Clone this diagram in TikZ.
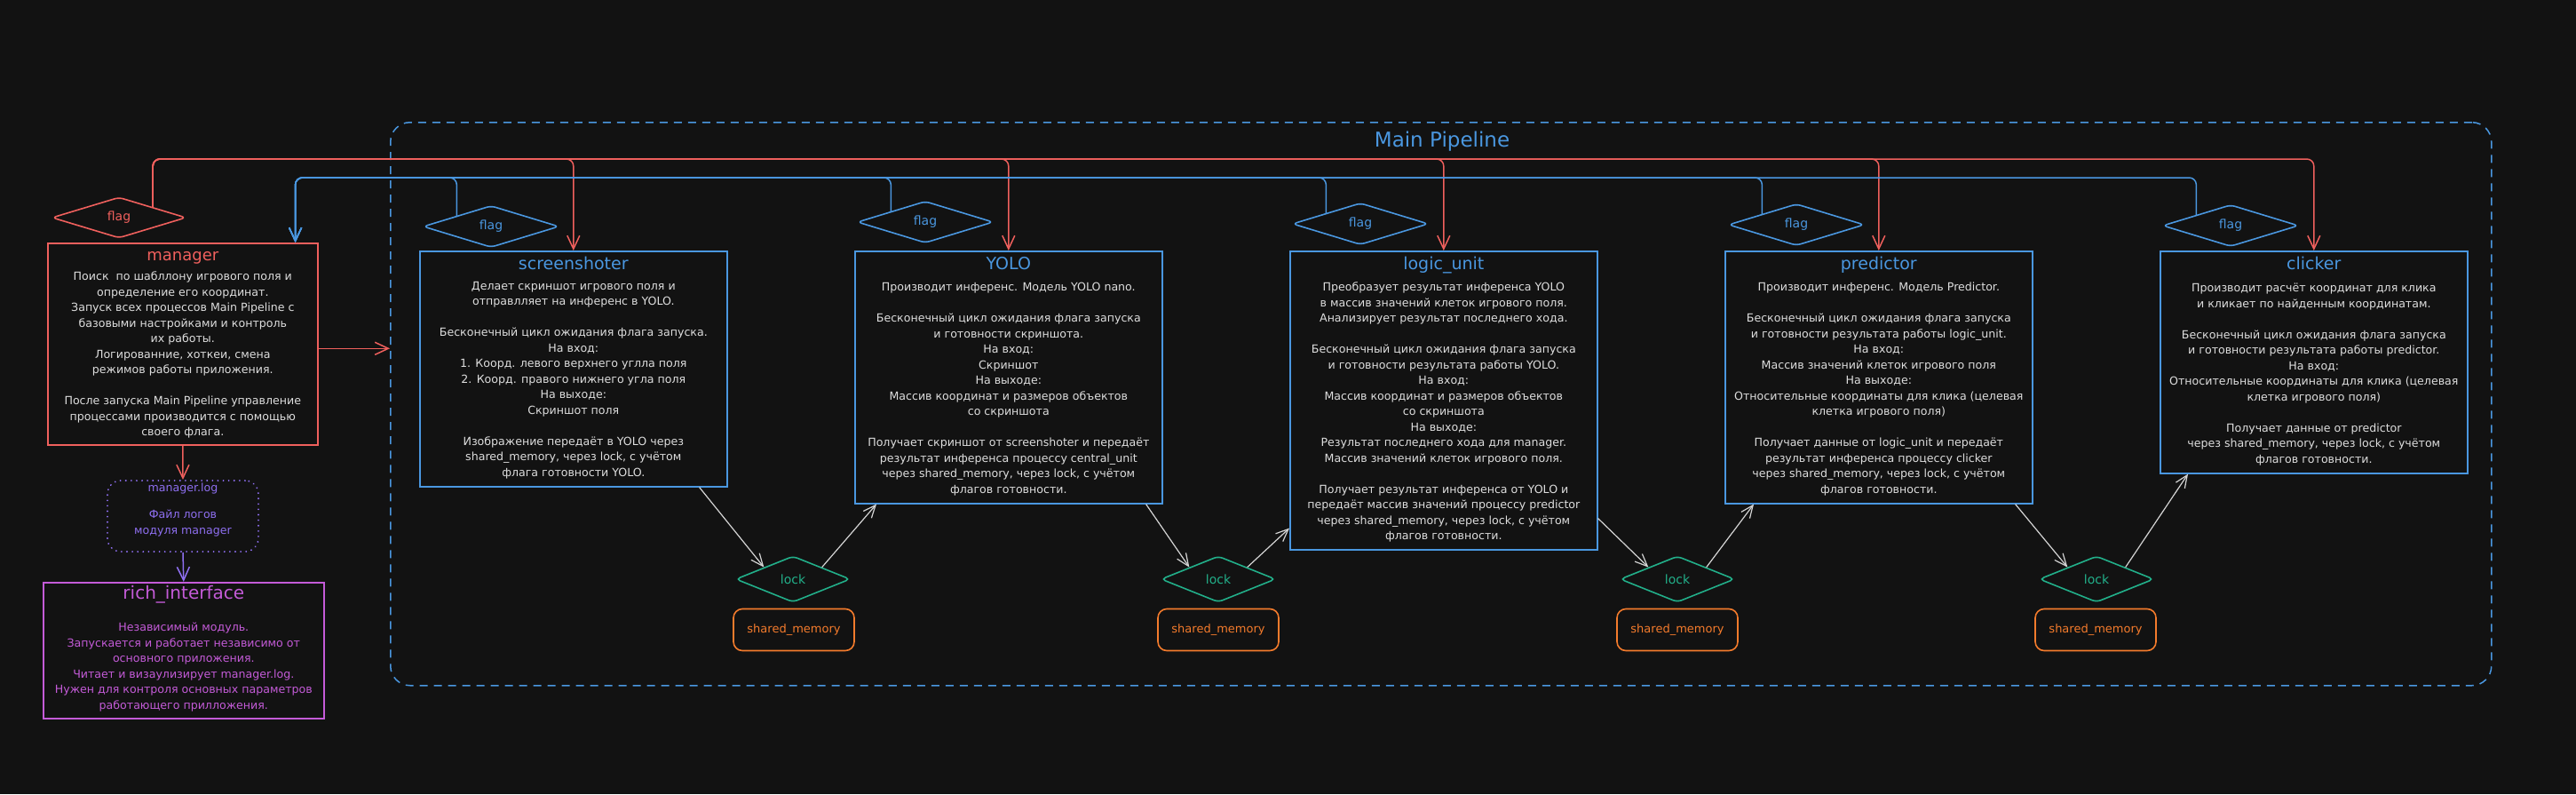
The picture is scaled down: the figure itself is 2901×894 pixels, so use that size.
\documentclass[tikz,border=0pt]{standalone}
\usepackage{fontspec}
\setmainfont{DejaVu Sans}
\usetikzlibrary{shapes.geometric,arrows.meta}
\definecolor{bg}{HTML}{121212}
\definecolor{cred}{HTML}{F0605D}
\definecolor{cblue}{HTML}{4A97E0}
\definecolor{cgreen}{HTML}{22B08A}
\definecolor{corange}{HTML}{F47B2C}
\definecolor{cviolet}{HTML}{8E6FF0}
\definecolor{cmag}{HTML}{C45BD8}
\definecolor{ctext}{HTML}{DEDEDE}
\definecolor{carrow}{HTML}{D4D4D4}
\begin{document}
\begin{tikzpicture}[x=1pt,y=-1pt,
  procbox/.style={draw=cblue, line width=1.6pt, anchor=north west, inner sep=0pt},
  ttl/.style={anchor=base, inner sep=0pt, font=\fontsize{19}{22}\selectfont},
  body/.style={text=ctext, align=center, inner sep=0pt, anchor=north, font=\fontsize{12.6}{17.5}\selectfont},
  flagd/.style={diamond, draw=cblue, line width=1.6pt, rounded corners=5pt, inner sep=0pt, minimum width=153pt, minimum height=47pt, text=cblue, font=\fontsize{14}{16}\selectfont},
  lockd/.style={diamond, draw=cgreen, line width=1.6pt, rounded corners=5pt, inner sep=0pt, minimum width=129pt, minimum height=52pt, text=cgreen, font=\fontsize{14}{16}\selectfont},
  shm/.style={draw=corange, line width=1.6pt, rounded corners=10pt, minimum width=136pt, minimum height=47pt, text=corange, font=\fontsize{13}{15}\selectfont},
  redarr/.style={draw=cred, line width=1.5pt, rounded corners=8pt, -{Straight Barb[length=15pt,width=14pt]}},
  bluearr/.style={draw=cblue, line width=1.5pt, rounded corners=8pt, -{Straight Barb[length=15pt,width=14pt]}},
  whitearr/.style={draw=carrow, line width=1.2pt, -{Straight Barb[length=14pt,width=12pt]}},
  violetarr/.style={draw=cviolet, line width=1.5pt, -{Straight Barb[length=15pt,width=14pt]}}
]
\useasboundingbox (0,0) rectangle (2901,894);
\fill[bg] (0,0) rectangle (2901,894);

% Main pipeline frame
\node[draw=cblue, line width=1.5pt, dash pattern=on 9pt off 7pt, rounded corners=22pt, anchor=north west, inner sep=0pt, minimum width=2366pt, minimum height=634pt] (pipe) at (439,137) {};
\node[anchor=base, text=cblue, inner sep=0pt, font=\fontsize{23}{26}\selectfont] (pipet) at (1624,165) {Main Pipeline};

% manager
\node[draw=cred, line width=1.6pt, anchor=north west, inner sep=0pt, minimum width=304pt, minimum height=227pt] (m) at (53,273) {};
\node[ttl, text=cred, font=\fontsize{18}{20}\selectfont] (mt) at (m.north |- 0,293) {manager};
\node[body] (mb) at (m.north |- 0,306) {Поиск~~по шабллону игрового поля и\\
определение его координат.\\
Запуск всех процессов Main Pipeline с\\
базовыми настройками и контроль\\
их работы.\\
Логированние, хоткеи, смена\\
режимов работы приложения.\\[17.5pt]
После запуска Main Pipeline управление\\
процессами производится с помощью\\
своего флага.};
\node[diamond, draw=cred, line width=1.6pt, rounded corners=5pt, inner sep=0pt, minimum width=151pt, minimum height=46pt, text=cred, font=\fontsize{14}{16}\selectfont] (mf) at (134,245) {flag};

% manager.log
\node[draw=cviolet, line width=2pt, line cap=round, dash pattern=on 0.1pt off 6pt, rounded corners=15pt, anchor=north west, inner sep=0pt, minimum width=170pt, minimum height=80pt] (log) at (120,540) {};
\node[body, text=cviolet] (logt) at (log.north |- 0,544) {manager.log\\[12.5pt]Файл логов\\модуля manager};

% rich_interface
\node[draw=cmag, line width=1.6pt, anchor=north west, inner sep=0pt, minimum width=316pt, minimum height=153pt] (rich) at (48,655) {};
\node[ttl, text=cmag, font=\fontsize{20}{22}\selectfont] (richt) at (rich.north |- 0,674) {rich\_interface};
\node[body, text=cmag] (richb) at (rich.north |- 0,701) {Независимый модуль.\\
Запускается и работает независимо от\\
основного приложения.\\
Читает и визаулизирует manager.log.\\
Нужен для контроля основных параметров\\
работающего прилложения.};

% process boxes
\node[procbox, minimum width=346pt, minimum height=265pt] (scr) at (472,282) {};
\node[procbox, minimum width=346pt, minimum height=284pt] (yolo) at (962,282) {};
\node[procbox, minimum width=346pt, minimum height=336pt] (logic) at (1452,282) {};
\node[procbox, minimum width=346pt, minimum height=284pt] (pred) at (1942,282) {};
\node[procbox, minimum width=346pt, minimum height=250pt] (click) at (2432,282) {};

\node[ttl, text=cblue] (scrt) at (scr.north |- 0,303) {screenshoter};
\node[ttl, text=cblue] (yolot) at (yolo.north |- 0,303) {YOLO};
\node[ttl, text=cblue] (logict) at (logic.north |- 0,303) {logic\_unit};
\node[ttl, text=cblue] (predt) at (pred.north |- 0,303) {predictor};
\node[ttl, text=cblue] (clickt) at (click.north |- 0,303) {clicker};

\node[body] (scrb) at (scr.north |- 0,317) {Делает скриншот игрового поля и\\
отправлляет на инференс в YOLO.\\[17.5pt]
Бесконечный цикл ожидания флага запуска.\\
На вход:\\
1. Коорд. левого верхнего углла поля\\
2. Коорд. правого нижнего угла поля\\
На выходе:\\
Скриншот поля\\[17.5pt]
Изображение передаёт в YOLO через\\
shared\_memory, через lock, с учётом\\
флага готовности YOLO.};

\node[body] (yolob) at (yolo.north |- 0,318) {Производит инференс. Модель YOLO nano.\\[17.5pt]
Бесконечный цикл ожидания флага запуска\\
и готовности скриншота.\\
На вход:\\
Скриншот\\
На выходе:\\
Массив координат и размеров объектов\\
со скриншота\\[17.5pt]
Получает скриншот от screenshoter и передаёт\\
результат инференса процессу central\_unit\\
через shared\_memory, через lock, с учётом\\
флагов готовности.};

\node[body] (logicb) at (logic.north |- 0,318) {Преобразует результат инференса YOLO\\
в массив значений клеток игрового поля.\\
Анализирует результат последнего хода.\\[17.5pt]
Бесконечный цикл ожидания флага запуска\\
и готовности результата работы YOLO.\\
На вход:\\
Массив координат и размеров объектов\\
со скриншота\\
На выходе:\\
Результат последнего хода для manager.\\
Массив значений клеток игрового поля.\\[17.5pt]
Получает результат инференса от YOLO и\\
передаёт массив значений процессу predictor\\
через shared\_memory, через lock, с учётом\\
флагов готовности.};

\node[body] (predb) at (pred.north |- 0,318) {Производит инференс. Модель Predictor.\\[17.5pt]
Бесконечный цикл ожидания флага запуска\\
и готовности результата работы logic\_unit.\\
На вход:\\
Массив значений клеток игрового поля\\
На выходе:\\
Относительные координаты для клика (целевая\\
клетка игрового поля)\\[17.5pt]
Получает данные от logic\_unit и передаёт\\
результат инференса процессу clicker\\
через shared\_memory, через lock, с учётом\\
флагов готовности.};

\node[body] (clickb) at (click.north |- 0,319) {Производит расчёт координат для клика\\
и кликает по найденным координатам.\\[17.5pt]
Бесконечный цикл ожидания флага запуска\\
и готовности результата работы predictor.\\
На вход:\\
Относительные координаты для клика (целевая\\
клетка игрового поля)\\[17.5pt]
Получает данные от predictor\\
через shared\_memory, через lock, с учётом\\
флагов готовности.};

% flags
\node[flagd] (f1) at (553,255) {flag};
\node[flagd] (f2) at (1042,250) {flag};
\node[flagd] (f3) at (1532,252) {flag};
\node[flagd] (f4) at (2023,253) {flag};
\node[flagd] (f5) at (2512,254) {flag};

% locks and shared memory
\node[lockd] (l1) at (893,652) {lock};
\node[lockd] (l2) at (1372,652) {lock};
\node[lockd] (l3) at (1889,652) {lock};
\node[lockd] (l4) at (2361,652) {lock};
\node[shm] (s1) at (894,709) {shared\_memory};
\node[shm] (s2) at (1372,709) {shared\_memory};
\node[shm] (s3) at (1889,709) {shared\_memory};
\node[shm] (s4) at (2360,709) {shared\_memory};

% bus coordinates
\coordinate (rbus) at (0,179);
\coordinate (bbus) at (0,200);
\coordinate (min) at ([xshift=-26pt]m.north east);

% red control bus
\draw[redarr] (mf.north east) |- (scr.north |- rbus) -- (scr.north);
\draw[redarr] (mf.north east) |- (yolo.north |- rbus) -- (yolo.north);
\draw[redarr] (mf.north east) |- (logic.north |- rbus) -- (logic.north);
\draw[redarr] (mf.north east) |- (pred.north |- rbus) -- (pred.north);
\draw[redarr] (mf.north east) |- (click.north |- rbus) -- (click.north);

% blue flag bus
\draw[bluearr] (f1.north west) |- (min |- bbus) -- (min);
\draw[bluearr] (f2.north west) |- (min |- bbus) -- (min);
\draw[bluearr] (f3.north west) |- (min |- bbus) -- (min);
\draw[bluearr] (f4.north west) |- (min |- bbus) -- (min);
\draw[bluearr] (f5.north west) |- (min |- bbus) -- (min);

% manager connectors
\draw[redarr] ([yshift=-5pt]m.east) -- ([yshift=-5pt]m.east -| pipe.west);
\draw[redarr] (m.south) -- (log.north);
\draw[violetarr] (log.south) -- (rich.north);

% data flow through locks
\draw[whitearr] ([xshift=-32pt]scr.south east) -- (l1.north west);
\draw[whitearr] (l1.north east) -- ([xshift=25pt]yolo.south west);
\draw[whitearr] ([xshift=-19pt]yolo.south east) -- (l2.north west);
\draw[whitearr] (l2.north east) -- ([yshift=25pt]logic.south west);
\draw[whitearr] ([yshift=36pt]logic.south east) -- (l3.north west);
\draw[whitearr] (l3.north east) -- ([xshift=33pt]pred.south west);
\draw[whitearr] ([xshift=-20pt]pred.south east) -- (l4.north west);
\draw[whitearr] (l4.north east) -- ([xshift=32pt]click.south west);
\end{tikzpicture}
\end{document}
